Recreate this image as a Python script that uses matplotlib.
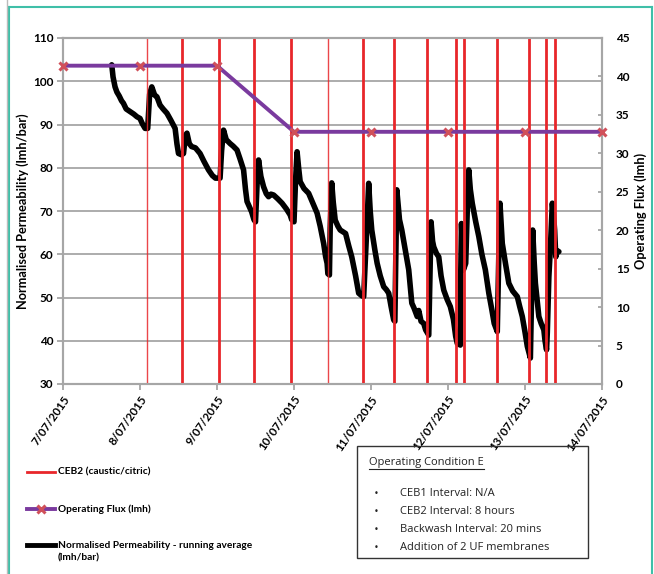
import matplotlib
matplotlib.use("Agg")
import matplotlib.pyplot as plt
from matplotlib.lines import Line2D
from matplotlib.patches import Rectangle

# ---------------- data ----------------
tick_days = [0, 1, 2, 3, 4, 5, 6, 7]
tick_labels = ["7/07/2015", "8/07/2015", "9/07/2015", "10/07/2015",
               "11/07/2015", "12/07/2015", "13/07/2015", "14/07/2015"]

flux_days = [0, 1, 2, 3, 4, 5, 6, 7]
flux_vals = [41.4, 41.4, 41.4, 32.8, 32.8, 32.8, 32.8, 32.8]

ceb_days = [1.088, 1.544, 2.025, 2.484, 2.965, 3.442, 3.892, 4.300,
            4.730, 5.110, 5.205, 5.631, 6.056, 6.277, 6.394]
ceb_thin = [True, False, False, False, False, True, False, False,
            False, False, False, False, False, False, False]

perm_days = [0.633, 0.65, 0.676, 0.70, 0.73, 0.76, 0.785, 0.82, 0.871, 0.92,
             0.96, 1.0, 1.03, 1.066, 1.10, 1.125, 1.153, 1.19, 1.22, 1.26,
             1.30, 1.35, 1.40, 1.456, 1.48, 1.50, 1.54, 1.565, 1.59, 1.61,
             1.64, 1.67, 1.72, 1.78, 1.83, 1.89, 1.94, 1.98, 2.04, 2.06,
             2.085, 2.12, 2.17, 2.21, 2.26, 2.30, 2.345, 2.37, 2.39, 2.45,
             2.48, 2.50, 2.52, 2.54, 2.57, 2.605, 2.64, 2.67, 2.70, 2.735,
             2.79, 2.845, 2.90, 2.95, 2.97, 3.0, 3.02, 3.04, 3.06, 3.08,
             3.13, 3.19, 3.24, 3.30, 3.34, 3.385, 3.41, 3.43, 3.44, 3.46,
             3.47, 3.49, 3.51, 3.535, 3.57, 3.60, 3.67, 3.71, 3.75, 3.80,
             3.84, 3.88, 3.905, 3.93, 3.95, 3.97, 3.99, 4.01, 4.05, 4.08,
             4.12, 4.165, 4.20, 4.23, 4.26, 4.295, 4.31, 4.335, 4.37, 4.40,
             4.45, 4.49, 4.53, 4.56, 4.60, 4.62, 4.65, 4.685, 4.71, 4.75,
             4.765, 4.78, 4.80, 4.815, 4.85, 4.88, 4.91, 4.945, 4.99, 5.03,
             5.07, 5.10, 5.12, 5.16, 5.165, 5.175, 5.19, 5.20, 5.23, 5.25,
             5.27, 5.29, 5.315, 5.36, 5.40, 5.44, 5.485, 5.53, 5.57, 5.60,
             5.64, 5.66, 5.675, 5.69, 5.705, 5.75, 5.79, 5.84, 5.90, 5.93,
             5.965, 6.0, 6.03, 6.07, 6.085, 6.10, 6.12, 6.135, 6.16, 6.18,
             6.21, 6.245, 6.26, 6.28, 6.29, 6.31, 6.33, 6.355, 6.37, 6.385,
             6.40, 6.42, 6.44]
perm_vals = [103.8, 101.0, 98.7, 97.5, 96.6, 95.5, 94.9, 93.6, 93.0, 92.4,
             91.8, 91.4, 90.2, 89.1, 89.1, 97.0, 98.7, 96.8, 96.4, 94.5,
             93.6, 92.6, 91.0, 89.1, 85.5, 83.3, 83.0, 83.3, 87.5, 88.0,
             85.6, 84.9, 84.6, 83.3, 81.5, 79.5, 78.2, 77.6, 77.6, 84.0,
             88.7, 86.5, 85.6, 85.0, 84.1, 82.0, 79.5, 75.0, 72.2, 69.8,
             68.0, 67.5, 76.0, 81.8, 78.0, 75.6, 74.0, 73.3, 73.9, 73.7,
             72.8, 71.8, 70.5, 69.1, 68.0, 67.5, 77.0, 83.7, 80.0, 76.8,
             75.2, 74.1, 72.0, 69.5, 66.5, 62.5, 59.5, 57.9, 55.5, 55.2,
             66.0, 76.5, 72.0, 67.9, 66.5, 65.6, 64.8, 62.0, 59.4, 55.0,
             51.0, 50.4, 50.2, 60.0, 67.9, 76.4, 70.0, 65.6, 61.0, 57.9,
             55.0, 52.5, 51.8, 51.0, 48.0, 44.8, 44.5, 74.9, 68.0, 65.6,
             60.5, 56.4, 48.7, 47.5, 45.6, 47.0, 44.5, 44.0, 42.5, 41.3,
             55.0, 67.5, 63.0, 61.7, 60.2, 59.4, 55.0, 51.7, 49.5, 47.9,
             45.0, 41.0, 39.4, 39.0, 55.0, 67.1, 60.0, 56.4, 57.9, 70.0,
             79.5, 75.0, 71.8, 67.5, 64.1, 60.0, 56.4, 51.0, 47.1, 44.0,
             42.1, 60.0, 71.8, 67.0, 62.5, 57.5, 53.3, 51.5, 50.2, 48.0,
             45.6, 42.0, 38.7, 36.0, 50.0, 65.6, 58.0, 53.3, 49.0, 45.6,
             44.0, 42.5, 40.0, 37.9, 42.0, 54.8, 61.7, 71.8, 69.0, 65.6,
             59.4, 60.8, 60.6]

legend_labels = ["CEB2 (caustic/citric)", "Operating Flux (lmh)",
                 "Normalised Permeability - running average", "(lmh/bar)"]
box_title = "Operating Condition E"
box_items = ["CEB1 Interval: N/A", "CEB2 Interval: 8 hours",
             "Backwash Interval: 20 mins", "Addition of 2 UF membranes"]

# ---------------- figure ----------------
W, H = 654, 574
fig = plt.figure(figsize=(W / 100, H / 100), dpi=100)
fig.patch.set_facecolor("white")

def fx(x):
    return x / W

def fy(y):
    return 1 - y / H

L, R, T, B = 63, 602, 38, 384
ax = fig.add_axes([fx(L), fy(B), fx(R) - fx(L), fy(T) - fy(B)])
ax2 = ax.twinx()

FONT = "Lato"
GRAY = "#a6a6a6"
RED = "#e8262a"
PURPLE = "#7a3a9e"
TICKFS = 8.5

ax.set_xlim(0, 7)
ax.set_ylim(30, 110)
ax.set_yticks(range(30, 111, 10))
ax.yaxis.grid(True, color=GRAY, lw=1.3)
ax.set_axisbelow(True)
ax.set_xticks(tick_days)
ax.set_xticklabels(tick_labels, rotation=55, ha="right", va="top",
                   rotation_mode="anchor", fontsize=8.3, fontweight="bold",
                   family=FONT)
for lab in ax.get_yticklabels():
    lab.set_fontsize(TICKFS)
    lab.set_fontweight("bold")
    lab.set_family(FONT)
ax.tick_params(axis="both", colors=GRAY, labelcolor="black", length=4, width=1.3)
ax.tick_params(axis="x", pad=3)
ax.tick_params(axis="y", pad=3)

ax2.set_ylim(0, 45)
ax2.set_yticks(range(0, 46, 5))
for lab in ax2.get_yticklabels():
    lab.set_fontsize(TICKFS)
    lab.set_fontweight("bold")
    lab.set_family(FONT)
ax2.tick_params(axis="y", direction="in", colors=GRAY, labelcolor="black",
                length=3, width=1.3, pad=10)

for a in (ax, ax2):
    for s in a.spines.values():
        s.set_color(GRAY)
        s.set_linewidth(1.5)

# permeability
ax.plot(perm_days, perm_vals, color="black", lw=4.0, solid_joinstyle="round",
        solid_capstyle="round", zorder=3)

# CEB lines
for d, thin in zip(ceb_days, ceb_thin):
    ax.axvline(d, color=RED, lw=1.0 if thin else 2.0,
               alpha=0.85 if thin else 1.0, zorder=4)

# flux
ax2.plot(flux_days, flux_vals, color=PURPLE, lw=2.8, zorder=5,
         marker="x", ms=6, mew=2.2, mec="#d0505a", clip_on=False)

ax.set_ylabel("Normalised Permeability (lmh/bar)", fontsize=9.2,
              fontweight="bold", family=FONT)
ax.yaxis.set_label_coords((29 - L) / (R - L), 0.5)
ax2.set_ylabel("Operating Flux (lmh)", fontsize=9.2, fontweight="bold",
               family=FONT, rotation=90)
ax2.yaxis.set_label_coords((634 - L) / (R - L), 0.5)

# ---------------- legend (manual) ----------------
LFS = 7.3
fig.add_artist(Line2D([fx(27), fx(55)], [fy(472), fy(472)], color=RED, lw=2))
fig.add_artist(Line2D([fx(27), fx(55)], [fy(509), fy(509)], color=PURPLE, lw=2.8))
fig.add_artist(Line2D([fx(41)], [fy(509)], color=PURPLE, marker="x", ms=6,
                      mew=2.2, mec="#d0505a"))
fig.add_artist(Line2D([fx(27), fx(55)], [fy(545), fy(545)], color="black", lw=3.5))
fig.text(fx(58), fy(472), legend_labels[0], fontsize=LFS, fontweight="bold",
         family=FONT, va="center", ha="left")
fig.text(fx(58), fy(509), legend_labels[1], fontsize=LFS, fontweight="bold",
         family=FONT, va="center", ha="left")
fig.text(fx(58), fy(545), legend_labels[2], fontsize=LFS, fontweight="bold",
         family=FONT, va="center", ha="left")
fig.text(fx(58), fy(558), legend_labels[3], fontsize=LFS, fontweight="bold",
         family=FONT, va="center", ha="left")

# ---------------- info box ----------------
fig.add_artist(Rectangle((fx(357), fy(558)), fx(588) - fx(357), fy(446) - fy(558),
                         fill=False, edgecolor="#333333", lw=1.0))
fig.text(fx(369), fy(462), box_title, fontsize=8, family="Open Sans",
         va="center", ha="left", color="#222222")
fig.add_artist(Line2D([fx(369), fx(484)], [fy(469), fy(469)], color="#222222", lw=0.8))
for i, item in enumerate(box_items):
    yy = 494 + i * 18
    fig.text(fx(374), fy(yy), "\u2022", fontsize=6, va="center", ha="left",
             color="#222222")
    fig.text(fx(400), fy(yy), item, fontsize=8, family="Open Sans",
             va="center", ha="left", color="#222222")

# ---------------- frame ----------------
TEAL = "#3fbfa8"
fig.add_artist(Line2D([fx(9), fx(9)], [fy(7), 0], color=TEAL, lw=1.5))
fig.add_artist(Line2D([fx(652), fx(652)], [fy(7), 0], color=TEAL, lw=1.5))
fig.add_artist(Line2D([fx(9), fx(652)], [fy(7), fy(7)], color=TEAL, lw=1.5))
fig.add_artist(Line2D([fx(6.5), fx(6.5)], [1, 0], color="#bbbbbb", lw=1.0))

fig.savefig("out.png", dpi=100)
